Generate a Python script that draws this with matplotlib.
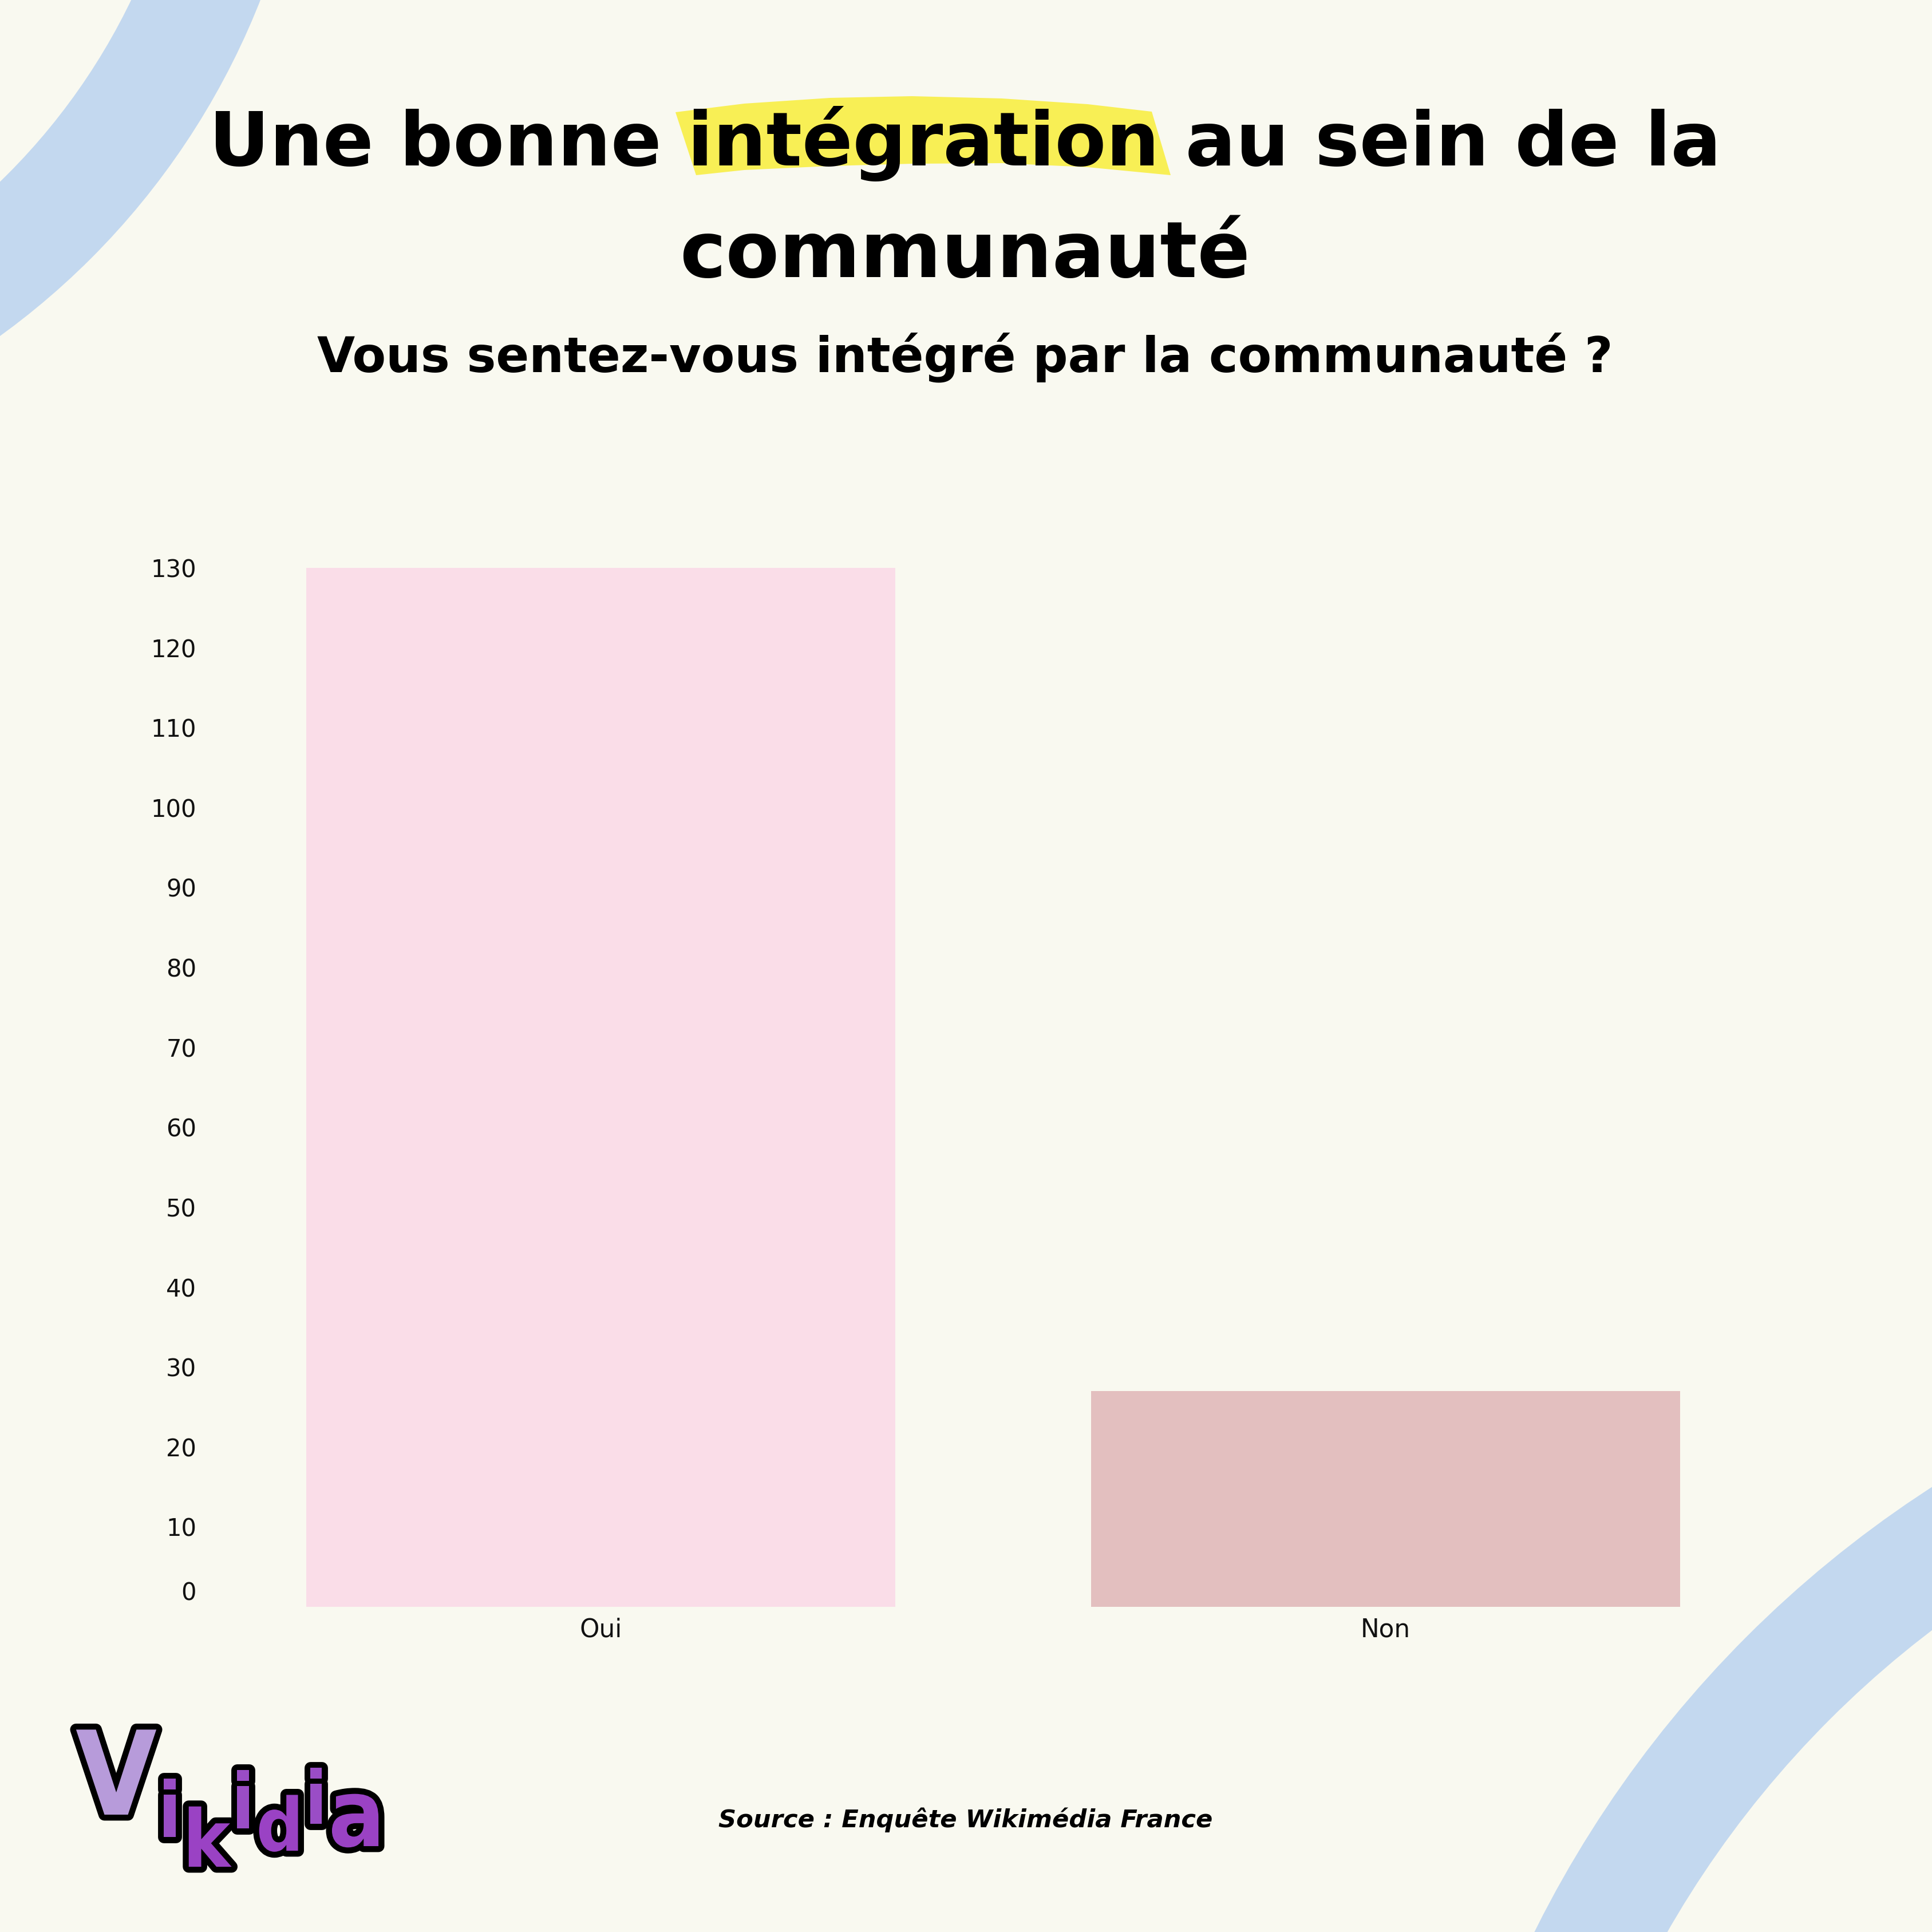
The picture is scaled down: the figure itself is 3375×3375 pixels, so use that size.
import matplotlib
matplotlib.use('Agg')
import matplotlib.pyplot as plt
import matplotlib.patheffects as pe
from matplotlib.patches import Wedge, Polygon
from matplotlib.transforms import ScaledTranslation
from matplotlib.font_manager import FontProperties, findfont
import numpy as np

# ---------------- data ----------------
categories = ['Oui', 'Non']
values = [130, 27]
yticks = [0, 10, 20, 30, 40, 50, 60, 70, 80, 90, 100, 110, 120, 130]
title_line1 = 'Une bonne intégration au sein de la'
title_line2 = 'communauté'
subtitle = 'Vous sentez-vous intégré par la communauté ?'
source = 'Source : Enquête Wikimédia France'
logo_letters = ['V', 'i', 'k', 'i', 'd', 'i', 'a']

# ---------------- styles ----------------
BG = '#F9F9F0'
BLUE = '#C3D8EF'
YELLOW = '#F8EF55'
bar_colors = ['#FADDE8', '#E3BFBF']
FONT = 'DejaVu Sans'

# narrow font for the logo if available
try:
    findfont(FontProperties(family='Liberation Sans Narrow', weight='bold'),
             fallback_to_default=False)
    LOGO_FONT = dict(family='Liberation Sans Narrow', fontweight='bold')
except Exception:
    LOGO_FONT = dict(family='DejaVu Sans', fontweight='bold', fontstretch='condensed')

W = 3375  # pixels
fig = plt.figure(figsize=(11.25, 11.25), dpi=300, facecolor=BG)
renderer = fig.canvas.get_renderer()

# background decoration axes in pixel coordinates (y up)
bg = fig.add_axes([0, 0, 1, 1], zorder=0)
bg.set_xlim(0, W)
bg.set_ylim(0, W)
bg.axis('off')
bg.set_facecolor(BG)

bg.add_patch(Wedge((-777, W + 485), 1324, 270, 360, width=207, color=BLUE, lw=0))
bg.add_patch(Wedge((4442, W - 4250), 1967, 90, 180, width=205, color=BLUE, lw=0))

# yellow highlight behind "intégration" (top-down pixel outline)
hl = [(1180, 196), (1300, 181), (1450, 171), (1593, 168), (1750, 172), (1900, 182),
      (2012, 195), (2045, 306), (1900, 292), (1750, 285), (1593, 286), (1450, 290),
      (1300, 297), (1216, 306)]
bg.add_patch(Polygon([(x, W - y) for x, y in hl], closed=True, color=YELLOW, lw=0, zorder=1))


def fit_text(x, y_top_down, s, target_w, **kw):
    t = bg.text(x, W - y_top_down, s, ha='center', va='baseline', fontsize=30,
                family=FONT, zorder=3, **kw)
    w = t.get_window_extent(renderer).width
    t.set_fontsize(30 * target_w / w)
    return t


fit_text(1686, 289, title_line1, 2641, fontweight='bold', color='black')
fit_text(1686, 484, title_line2, 997, fontweight='bold', color='black')
fit_text(1686, 650, subtitle, 2267, fontweight='bold', color='black')
fit_text(1687, 3192, source, 865, fontweight='bold', style='italic', color='black')

# logo "Vikidia": letters placed side by side, bouncing baselines
logo_style = [  # (baseline y top-down, relative size, color)
    (3170, 1.00, '#B79BDA'),
    (3209, 0.66, '#9A4DC6'),
    (3261, 0.68, '#9A42C4'),
    (3194, 0.66, '#9A4DC6'),
    (3233, 0.63, '#9A42C4'),
    (3186, 0.63, '#9A4DC6'),
    (3225, 0.80, '#9A42C4'),
]
LOGO_X0, LOGO_W = 132, 543
base = 78.0
logo_texts = []
for k, (ch, (y, rel, col)) in enumerate(zip(logo_letters, logo_style)):
    t = bg.text(0, W - y, ch, ha='left', va='baseline', fontsize=base * rel,
                color=col, zorder=4 + k * 0.1, **LOGO_FONT,
                path_effects=[pe.Stroke(linewidth=5, foreground='black'), pe.Normal()])
    logo_texts.append(t)


def place_logo(scale):
    xc = LOGO_X0
    for t, (y, rel, col) in zip(logo_texts, logo_style):
        t.set_fontsize(base * rel * scale)
        t.set_x(xc)
        xc += t.get_window_extent(renderer).width + 2
    return xc - LOGO_X0


sc = 1.0
for _ in range(3):
    total = place_logo(sc)
    sc *= LOGO_W / total
place_logo(sc)

# ---------------- chart ----------------
ax = fig.add_axes([364 / W, 568 / W, 2742 / W, 1815 / W], zorder=2)
ax.patch.set_alpha(0)
x = np.arange(len(categories))
ax.bar(x, values, width=0.75, color=bar_colors, edgecolor='none')
ax.set_xlim(-0.5, len(categories) - 0.5)
ax.set_ylim(0, 130)
ax.set_yticks(yticks)
ax.set_yticklabels([str(v) for v in yticks])
ax.set_xticks(x)
ax.set_xticklabels(categories)
for s in ax.spines.values():
    s.set_visible(False)
ax.tick_params(axis='y', length=0, pad=5, labelsize=10, labelcolor='#111111')
ax.tick_params(axis='x', length=0, pad=4.5, labelsize=10.5, labelcolor='#111111')
for lab in ax.get_yticklabels() + ax.get_xticklabels():
    lab.set_family(FONT)
# the "0" label sits slightly above the baseline in the original
zl = ax.get_yticklabels()[0]
zl.set_transform(zl.get_transform() + ScaledTranslation(0, 28 / 300, fig.dpi_scale_trans))

fig.savefig('out.png', dpi=300, facecolor=BG)
